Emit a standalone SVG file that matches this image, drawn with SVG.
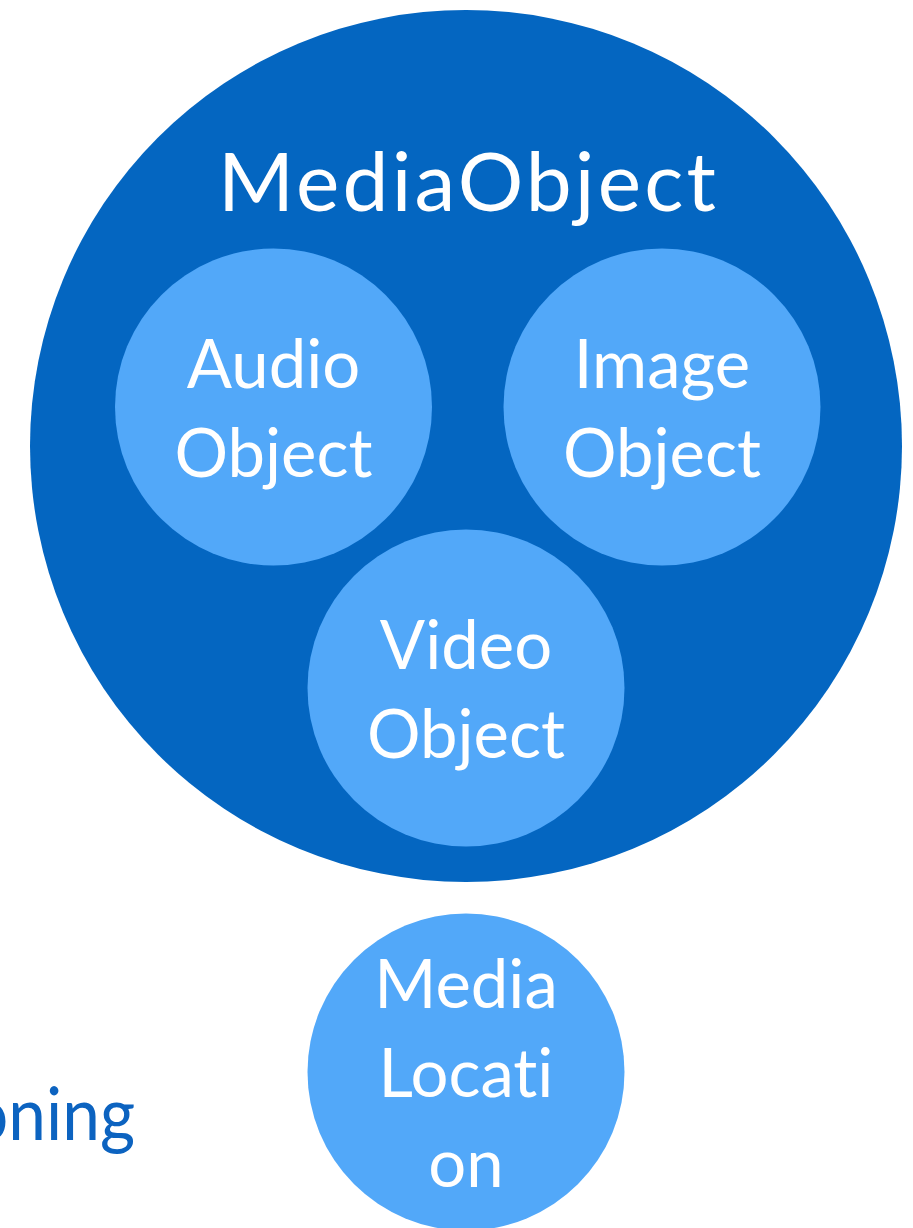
<svg xmlns="http://www.w3.org/2000/svg" width="913" height="1228" viewBox="0 0 913 1228">
<style>
.outer{fill:#0466C1}
.inner{fill:#52A8F9}
.t{font-family:Lato,"Open Sans","Noto Sans",sans-serif;fill:#FFFFFF;text-anchor:middle;font-variant-ligatures:none}
.big{font-size:82px}
.mid{font-size:67px}
.side{font-family:Lato,"Open Sans","Noto Sans",sans-serif;fill:#0C63C0;font-size:73px;font-variant-ligatures:none}
</style>
<rect width="913" height="1228" fill="#FFFFFF"/>
<g id="connectors"></g>
<g id="mediaobject">
<circle class="outer" cx="466" cy="446" r="436"/>
<text class="t big" x="467" y="211" textLength="498" lengthAdjust="spacing">MediaObject</text>
</g>
<g id="audioobject">
<circle class="inner" cx="273.5" cy="407" r="158.5"/>
<text class="t mid" x="273.5" y="388">Audio</text>
<text class="t mid" x="273.5" y="477">Object</text>
</g>
<g id="imageobject">
<circle class="inner" cx="662" cy="407" r="158.5"/>
<text class="t mid" x="662" y="388">Image</text>
<text class="t mid" x="662" y="477">Object</text>
</g>
<g id="videoobject">
<circle class="inner" cx="466" cy="688" r="158.5"/>
<text class="t mid" x="466" y="669">Video</text>
<text class="t mid" x="466" y="758">Object</text>
</g>
<g id="medialocation">
<circle class="inner" cx="466" cy="1072" r="158.5"/>
<text class="t mid" x="466" y="1008">Media</text>
<text class="t mid" x="466" y="1097">Locati</text>
<text class="t mid" x="466" y="1187">on</text>
</g>
<g id="label">
<text class="side" x="-30" y="1140" textLength="165" lengthAdjust="spacingAndGlyphs">oning</text>
</g>
</svg>
